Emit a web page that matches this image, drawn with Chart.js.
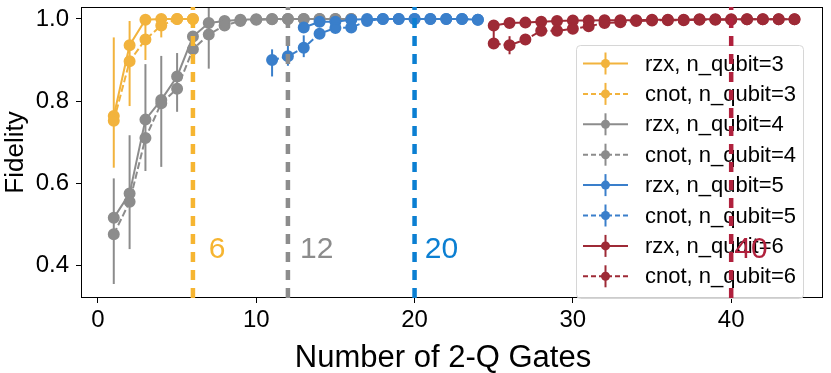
<!DOCTYPE html>
<html>
<head>
<meta charset="utf-8">
<script src="https://cdn.jsdelivr.net/npm/chart.js@4.4.1/dist/chart.umd.min.js"></script>
<style>
  html, body { margin: 0; padding: 0; background: #fff; }
</style>
</head>
<body>
<canvas id="fidelityChart" width="831" height="373"></canvas>
<script>
// ---------- data ----------
const gates3 = [1, 2, 3, 4, 5, 6];
const rzx3 = [0.764, 0.936, 0.998, 1.0, 1.0, 1.0];
const cnot3 = [0.752, 0.897, 0.950, 0.984, 1.0, 1.0];
const rzx3Err = [[0.638, 0.955], null, null, null, null, null];
const cnot3Err = [null, [0.788, 0.995], [0.90, 1.0], [0.955, 1.0], null, null];

const gates4 = [1, 2, 3, 4, 5, 6, 7, 8, 9, 10, 11, 12, 13, 14, 15, 16];
const rzx4 = [0.516, 0.575, 0.755, 0.803, 0.860, 0.957, 0.990, 0.995, 0.998, 0.999, 1.0, 1.0, 1.0, 1.0, 1.0, 1.0];
const cnot4 = [0.476, 0.555, 0.710, 0.795, 0.830, 0.926, 0.962, 0.984, 0.995, 0.998, 0.999, 1.0, 1.0, 1.0, 1.0, 1.0];
const rzx4Err = [null, [0.44, 0.717], [0.63, 0.89], [0.64, 0.91], [0.774, 0.917], null, null, null, null, null, null, null, null, null, null, null];
const cnot4Err = [[0.355, 0.612], null, null, null, null, null, [0.879, 1.04], null, null, null, null, null, null, null, null, null];

const gates5Rzx = [13, 14, 15, 16, 17, 18, 19, 20, 21, 22, 23, 24];
const rzx5 = [0.979, 0.993, 0.993, 0.998, 1.0, 1.0, 1.0, 1.0, 1.0, 1.0, 1.0, 0.998];
const gates5Cnot = [11, 12, 13, 14, 15, 16, 17, 18, 19, 20, 21, 22, 23, 24];
const cnot5 = [0.900, 0.909, 0.930, 0.964, 0.978, 0.979, 0.995, 1.0, 1.0, 1.0, 1.0, 1.0, 1.0, 0.998];
const rzx5Err = [null, null, null, null, null, null, null, null, null, null, null, null];
const cnot5Err = [[0.86, 0.926], [0.886, 0.943], [0.907, 0.96], null, null, null, null, null, null, null, null, null, null, null];

const gates6 = [25, 26, 27, 28, 29, 30, 31, 32, 33, 34, 35, 36, 37, 38, 39, 40, 41, 42, 43, 44];
const rzx6 = [0.984, 0.990, 0.991, 0.993, 0.995, 0.996, 0.996, 0.997, 0.997, 0.997, 0.998, 0.998, 0.998, 0.999, 0.999, 0.999, 0.999, 0.999, 0.999, 0.999];
const cnot6 = [0.940, 0.936, 0.950, 0.971, 0.971, 0.976, 0.982, 0.990, 0.992, 0.995, 0.996, 0.997, 0.997, 0.998, 0.998, 0.998, 0.999, 0.999, 0.999, 0.999];
const rzx6Err = gates6.map(() => null);
const cnot6Err = [[0.93, 0.985], [0.914, 0.958], null, null, null, null, null, null, null, null, null, null, null, null, null, null, null, null, null, null];

const thresholds = [6, 12, 20, 40];
const thresholdLabels = ['6', '12', '20', '40'];

const xTicks = [0, 10, 20, 30, 40];
const yTicks = [0.4, 0.6, 0.8, 1.0];

// ---------- styling ----------
const YELLOW = '#f2b33d';
const GRAY = '#8c8c8c';
const BLUE = '#3a7fcb';
const RED = '#9e2a36';
const lineColors = ['#f6b531', '#8c8c8c', '#0b7fd2', '#b0213d'];
const labelOffsets = [1.0, 0.76, 0.64, 0.2];

const series = [
    { label: 'rzx, n_qubit=3',  xs: gates3,     ys: rzx3,  err: rzx3Err,  color: YELLOW, dashed: false },
    { label: 'cnot, n_qubit=3', xs: gates3,     ys: cnot3, err: cnot3Err, color: YELLOW, dashed: true },
    { label: 'rzx, n_qubit=4',  xs: gates4,     ys: rzx4,  err: rzx4Err,  color: GRAY,   dashed: false },
    { label: 'cnot, n_qubit=4', xs: gates4,     ys: cnot4, err: cnot4Err, color: GRAY,   dashed: true },
    { label: 'rzx, n_qubit=5',  xs: gates5Rzx,  ys: rzx5,  err: rzx5Err,  color: BLUE,   dashed: false },
    { label: 'cnot, n_qubit=5', xs: gates5Cnot, ys: cnot5, err: cnot5Err, color: BLUE,   dashed: true },
    { label: 'rzx, n_qubit=6',  xs: gates6,     ys: rzx6,  err: rzx6Err,  color: RED,    dashed: false },
    { label: 'cnot, n_qubit=6', xs: gates6,     ys: cnot6, err: cnot6Err, color: RED,    dashed: true }
];

const FONT = "'Liberation Sans', Arial, sans-serif";

// ---------- plugins ----------
const errorBars = {
    id: 'errorBars',
    beforeDatasetsDraw(chart) {
        const { ctx, chartArea: a, scales: { x, y } } = chart;
        ctx.save();
        ctx.beginPath();
        ctx.rect(a.left, a.top, a.right - a.left, a.bottom - a.top);
        ctx.clip();
        ctx.lineWidth = 2;
        series.forEach(s => {
            ctx.strokeStyle = s.color;
            s.err.forEach((e, i) => {
                if (!e) return;
                const px = x.getPixelForValue(s.xs[i]);
                ctx.beginPath();
                ctx.moveTo(px, y.getPixelForValue(e[0]));
                ctx.lineTo(px, y.getPixelForValue(e[1]));
                ctx.stroke();
            });
        });
        ctx.restore();
    }
};

const overlay = {
    id: 'overlay',
    afterDraw(chart) {
        const { ctx, chartArea: a, scales: { x, y } } = chart;
        ctx.save();

        // frame
        ctx.strokeStyle = '#000';
        ctx.lineWidth = 1;
        ctx.strokeRect(a.left + 0.5, a.top + 0.5, a.right - a.left - 1, a.bottom - a.top - 1);

        // x axis title (sits a little left of centre in the original)
        ctx.fillStyle = '#000';
        ctx.font = '31px ' + FONT;
        ctx.textAlign = 'center';
        ctx.textBaseline = 'alphabetic';
        ctx.fillText('Number of 2-Q Gates', (a.left + a.right) / 2 - 9, 367);

        // legend
        const bx = a.right - 247, by = a.top + 38, bw = 227, bh = 253;
        ctx.beginPath();
        ctx.roundRect(bx + 0.5, by + 0.5, bw, bh, 4);
        ctx.fillStyle = 'rgba(255,255,255,0.8)';
        ctx.fill();
        ctx.strokeStyle = '#d6d6d6';
        ctx.lineWidth = 1;
        ctx.stroke();

        ctx.font = '22px ' + FONT;
        ctx.textBaseline = 'middle';
        ctx.textAlign = 'left';
        series.forEach((s, i) => {
            const ry = by + 18.5 + i * 30.4;
            const hx = bx + 7;
            ctx.strokeStyle = s.color;
            ctx.lineWidth = 2;
            ctx.setLineDash(s.dashed ? [5, 3] : []);
            ctx.beginPath();
            ctx.moveTo(hx, ry);
            ctx.lineTo(hx + 45, ry);
            ctx.stroke();
            ctx.setLineDash([]);
            ctx.beginPath();
            ctx.moveTo(hx + 22.5, ry - 11);
            ctx.lineTo(hx + 22.5, ry + 11);
            ctx.stroke();
            ctx.fillStyle = s.color;
            ctx.beginPath();
            ctx.arc(hx + 22.5, ry, 4.5, 0, Math.PI * 2);
            ctx.fill();
            ctx.fillStyle = '#000';
            ctx.fillText(s.label, bx + 69, ry + 1);
        });

        // threshold lines and labels
        ctx.beginPath();
        ctx.rect(a.left, a.top, a.right - a.left, a.bottom - a.top);
        ctx.clip();
        thresholds.forEach((t, i) => {
            const px = x.getPixelForValue(t);
            ctx.strokeStyle = lineColors[i];
            ctx.lineWidth = 4.5;
            ctx.setLineDash([10, 8]);
            ctx.beginPath();
            ctx.moveTo(px, a.bottom);
            ctx.lineTo(px, a.top);
            ctx.stroke();
            ctx.setLineDash([]);
            ctx.fillStyle = lineColors[i];
            ctx.font = '30px ' + FONT;
            ctx.textBaseline = 'alphabetic';
            ctx.fillText(thresholdLabels[i], x.getPixelForValue(t + labelOffsets[i]), y.getPixelForValue(0.419));
        });
        ctx.restore();
    }
};

// ---------- chart ----------
const ctx = document.getElementById('fidelityChart').getContext('2d');

let fidelityChart = new Chart(ctx, {
    type: 'line',
    data: {
        datasets: series.map((s, i) => ({
            label: s.label,
            data: s.xs.map((v, j) => ({ x: v, y: s.ys[j] })),
            borderColor: s.color,
            backgroundColor: s.color,
            pointBackgroundColor: s.color,
            pointBorderColor: s.color,
            borderWidth: 2,
            borderDash: s.dashed ? [7, 3] : [],
            pointRadius: 5,
            pointHoverRadius: 5,
            tension: 0,
            fill: false,
            order: series.length - i
        }))
    },
    options: {
        responsive: false,
        animation: false,
        devicePixelRatio: 1,
        layout: { padding: { left: 0, right: 8, top: 2, bottom: 0 } },
        plugins: { legend: { display: false }, tooltip: { enabled: false } },
        scales: {
            x: {
                type: 'linear',
                min: -1.07,
                max: 45.8,
                afterBuildTicks: s => { s.ticks = xTicks.map(v => ({ value: v })); },
                afterFit: s => { s.height = 75; s.paddingLeft = 0; s.paddingRight = 0; },
                ticks: { color: '#000', font: { size: 24, family: FONT }, padding: 3, maxRotation: 0 },
                grid: { drawOnChartArea: false, tickLength: 5, tickColor: '#000' },
                border: { display: false },
                title: { display: false }
            },
            y: {
                min: 0.321,
                max: 1.029,
                afterBuildTicks: s => { s.ticks = yTicks.map(v => ({ value: v })); },
                afterFit: s => { s.width = 81; s.paddingTop = 0; s.paddingBottom = 0; },
                ticks: { color: '#000', font: { size: 24, family: FONT }, padding: 7, callback: v => v.toFixed(1) },
                grid: { drawOnChartArea: false, tickLength: 5, tickColor: '#000' },
                border: { display: false },
                title: { display: true, text: 'Fidelity', color: '#000', font: { size: 26, family: FONT }, padding: 0 }
            }
        }
    },
    plugins: [errorBars, overlay]
});
</script>
</body>
</html>
